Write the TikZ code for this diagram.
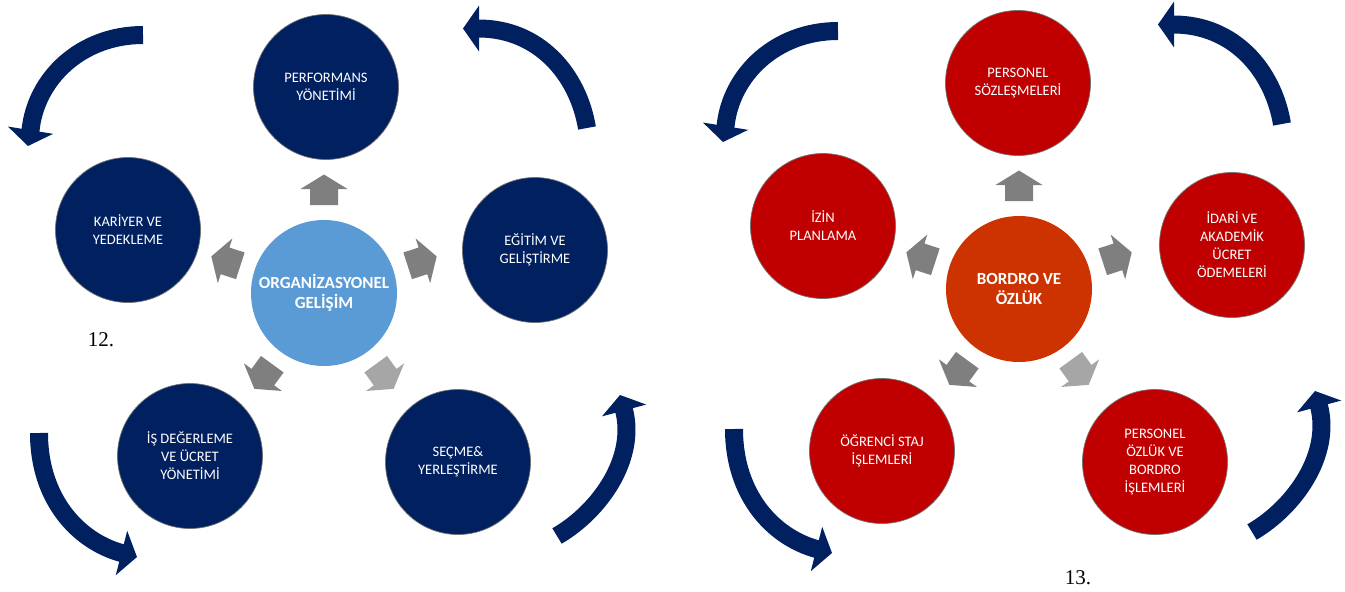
\documentclass[tikz,border=0pt]{standalone}
\usepackage{fontspec}
\setmainfont{Carlito}
\newfontfamily\numfont{Liberation Serif}
\usetikzlibrary{arrows.meta}
\definecolor{navy}{HTML}{002060}
\definecolor{lblue}{HTML}{5B9BD5}
\definecolor{dred}{HTML}{C00000}
\definecolor{ored}{HTML}{CC3300}
\definecolor{gA}{HTML}{7F7F7F}
\definecolor{gB}{HTML}{A6A6A6}
\tikzset{
  outer/.style={circle, minimum size=145pt, inner sep=0pt,
    draw=black!55, line width=0.7pt, text=white, align=center,
    font=\fontsize{14.5}{18}\selectfont},
  navycirc/.style={outer, fill=navy},
  redcirc/.style={outer, fill=dred},
  hub/.style={circle, minimum size=146pt, inner sep=0pt,
    text=white, align=center, font=\fontsize{17}{19.5}\selectfont\bfseries},
  curv/.style={draw=navy, line width=18pt, -{Triangle[width=45pt,length=16pt]}},
  label12/.style={font=\numfont\fontsize{21}{24}\selectfont, text=black},
  garrow/.pic={\fill[pic actions] (88,-14) -- (104,-14) -- (104,-23.5) -- (118.5,0)
     -- (104,23.5) -- (104,14) -- (88,14) -- cycle;}
}
\begin{document}
\begin{tikzpicture}[x=1pt,y=-1pt]
\useasboundingbox (0,0) rectangle (1345,592);
% ---------------- left diagram ----------------
\node[hub, fill=lblue] (hubL) at (324,293) {ORGANİZASYONEL\\GELİŞİM};
\node[navycirc] (perf) at (326,87) {PERFORMANS\\YÖNETİMİ};
\node[navycirc] (kariyer) at (128,230) {KARİYER VE\\YEDEKLEME};
\node[navycirc] (egitim) at (535,250) {EĞİTİM VE\\GELİŞTİRME};
\node[navycirc] (isdeg) at (190,456) {İŞ DEĞERLEME\\VE ÜCRET\\YÖNETİMİ};
\node[navycirc] (secme) at (458,462) {SEÇME\&\\YERLEŞTİRME};
\pic[fill=gA, rotate=90] at (hubL) {garrow};
\pic[fill=gA, rotate=162] at (hubL) {garrow};
\pic[fill=gA, rotate=18] at (hubL) {garrow};
\pic[fill=gA, rotate=234] at (hubL) {garrow};
\pic[fill=gB, rotate=306] at (hubL) {garrow};
\begin{scope}
\coordinate (a1s) at (143,35);   \coordinate (a1b) at (30.5,130.5); \coordinate (a1t) at (28,146);
\coordinate (a2s) at (587,128);  \coordinate (a2b) at (478.5,28.5); \coordinate (a2t) at (463,28.5);
\coordinate (a3s) at (39,433);   \coordinate (a3b) at (121.5,553);  \coordinate (a3t) at (137,557);
\coordinate (a4s) at (557,536);  \coordinate (a4b) at (624,410);    \coordinate (a4t) at (620,395);
\draw[curv] (a1s) .. controls (81,35) and (35.7,78.5) .. (a1b) -- (a1t);
\draw[curv] (a2s) .. controls (578,74) and (538.5,28.5) .. (a2b) -- (a2t);
\draw[curv] (a3s) .. controls (39,499) and (78,541) .. (a3b) -- (a3t);
\draw[curv] (a4s) .. controls (600,511) and (636.5,458.5) .. (a4b) -- (a4t);
\end{scope}
\node[label12] (n12) at (101,340) {12.};
% ---------------- right diagram ----------------
\node[hub, fill=ored] (hubR) at (1019,289) {BORDRO VE\\ÖZLÜK};
\node[redcirc] (pers) at (1018,83) {PERSONEL\\SÖZLEŞMELERİ};
\node[redcirc] (izin) at (823,226) {İZİN\\PLANLAMA};
\node[redcirc] (idari) at (1232,245) {İDARİ VE\\AKADEMİK\\ÜCRET\\ÖDEMELERİ};
\node[redcirc] (ogr) at (882,451) {ÖĞRENCİ STAJ\\İŞLEMLERİ};
\node[redcirc] (ozluk) at (1155,462) {PERSONEL\\ÖZLÜK VE\\BORDRO\\İŞLEMLERİ};
\pic[fill=gA, rotate=90] at (hubR) {garrow};
\pic[fill=gA, rotate=162] at (hubR) {garrow};
\pic[fill=gA, rotate=18] at (hubR) {garrow};
\pic[fill=gA, rotate=234] at (hubR) {garrow};
\pic[fill=gB, rotate=306] at (hubR) {garrow};
\begin{scope}[shift={(695,-4)}]
\coordinate (b1s) at (143,35);   \coordinate (b1b) at (30.5,130.5); \coordinate (b1t) at (28,146);
\coordinate (b2s) at (587,128);  \coordinate (b2b) at (478.5,28.5); \coordinate (b2t) at (463,28.5);
\coordinate (b3s) at (39,433);   \coordinate (b3b) at (121.5,553);  \coordinate (b3t) at (137,557);
\coordinate (b4s) at (557,536);  \coordinate (b4b) at (624,410);    \coordinate (b4t) at (620,395);
\draw[curv] (b1s) .. controls (81,35) and (35.7,78.5) .. (b1b) -- (b1t);
\draw[curv] (b2s) .. controls (578,74) and (538.5,28.5) .. (b2b) -- (b2t);
\draw[curv] (b3s) .. controls (39,499) and (78,541) .. (b3b) -- (b3t);
\draw[curv] (b4s) .. controls (600,511) and (636.5,458.5) .. (b4b) -- (b4t);
\end{scope}
\node[label12] (n13) at (1078,578) {13.};
\end{tikzpicture}
\end{document}
